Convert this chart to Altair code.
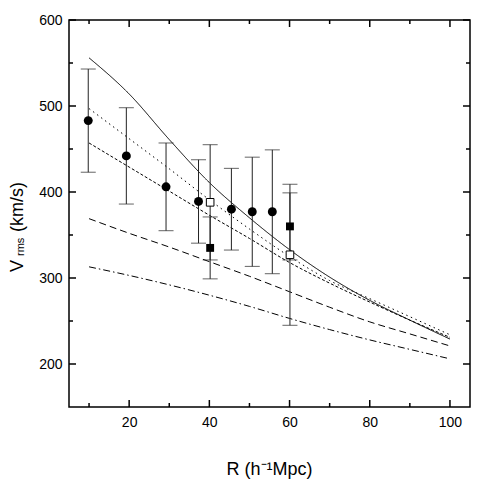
import altair as alt
import pandas as pd

# ---------------- data ----------------
R = [10, 20, 30, 40, 50, 60, 70, 80, 90, 100]
curve_solid = [556, 514, 461, 411, 370, 333, 301, 274, 251, 229]
curve_dotted = [497, 462, 427, 391, 357, 325, 297, 276, 255, 234]
curve_short = [457, 429, 401, 373, 346, 318, 294, 272, 251, 231]
curve_long = [369, 352, 336, 319, 302, 284, 266, 249, 235, 221]
curve_dashdot = [313, 303, 292, 280, 267, 253, 240, 228, 217, 206]
series_names = ["solid", "dotted", "shortdash", "longdash", "dashdot"]

circ_x = [9.8, 19.3, 29.2, 37.3, 45.5, 50.7, 55.7]
circ_y = [483, 442, 406, 389, 380, 377, 377]
circ_err = [60, 56, 51, 48.5, 47.5, 63.5, 72]

osq_x = [40.2, 60.1]
osq_y = [388, 327]
osq_err = [67, 82]

fsq_x = [40.2, 60.1]
fsq_y = [335, 360]
fsq_err = [36, 39]

x_major = [20, 40, 60, 80, 100]
x_minor = [10, 30, 50, 70, 90]
y_major = [200, 300, 400, 500, 600]
y_minor = [250, 350, 450, 550]

x_title = "R (h\u207b\u00b9Mpc)"
y_title_main = "V"
y_title_sub = "rms"
y_title_unit = "(km/s)"

# ---------------- tables ----------------
curves = [curve_solid, curve_dotted, curve_short, curve_long, curve_dashdot]
lines_df = pd.DataFrame(
    [{"R": r, "V": v, "series": name}
     for name, vals in zip(series_names, curves) for r, v in zip(R, vals)]
)

def pts(xs, ys, es, kind):
    return [{"R": x, "V": y, "lo": y - e, "hi": y + e, "kind": kind}
            for x, y, e in zip(xs, ys, es)]

pts_df = pd.DataFrame(pts(circ_x, circ_y, circ_err, "circle")
                      + pts(osq_x, osq_y, osq_err, "open")
                      + pts(fsq_x, fsq_y, fsq_err, "filled"))

W, H = 401, 387
FONT = "Liberation Sans"

xs = alt.Scale(domain=[5, 105], nice=False, zero=False)
ys = alt.Scale(domain=[150, 600], nice=False, zero=False)
xaxis = alt.Axis(values=x_major, tickSize=0, domain=False, grid=False,
                 labelFontSize=14, labelFont=FONT, labelColor="black",
                 labelPadding=8, title=None)
yaxis = alt.Axis(values=y_major, tickSize=0, domain=False, grid=False,
                 labelFontSize=14, labelFont=FONT, labelColor="black",
                 labelPadding=7, title=None)

def X(f):
    return alt.X(f, scale=xs, axis=xaxis)

def Y(f):
    return alt.Y(f, scale=ys, axis=yaxis)

lines = alt.Chart(lines_df).mark_line(color="black", strokeWidth=1,
                                      interpolate="monotone").encode(
    x=X("R:Q"), y=Y("V:Q"),
    strokeDash=alt.StrokeDash(
        "series:N",
        scale=alt.Scale(domain=series_names,
                        range=[[1, 0], [1.5, 3.5], [3, 2], [7, 4], [7, 3, 1.5, 3]]),
        legend=None),
    detail="series:N",
)

bars = alt.Chart(pts_df).mark_rule(color="#222", strokeWidth=1).encode(
    x=X("R:Q"), y=Y("lo:Q"), y2="hi:Q",
)
cap_lo = alt.Chart(pts_df).mark_tick(orient="horizontal", size=15, thickness=1,
                                     color="#222").encode(x=X("R:Q"), y=Y("lo:Q"))
cap_hi = alt.Chart(pts_df).mark_tick(orient="horizontal", size=15, thickness=1,
                                     color="#222").encode(x=X("R:Q"), y=Y("hi:Q"))

circles = alt.Chart(pts_df).transform_filter(alt.datum.kind == "circle").mark_point(
    shape="circle", filled=True, color="black", size=80, opacity=1).encode(
    x=X("R:Q"), y=Y("V:Q"))
fsq = alt.Chart(pts_df).transform_filter(alt.datum.kind == "filled").mark_point(
    shape="square", filled=True, color="black", size=62, opacity=1).encode(
    x=X("R:Q"), y=Y("V:Q"))
osq = alt.Chart(pts_df).transform_filter(alt.datum.kind == "open").mark_point(
    shape="square", filled=True, fill="white", stroke="black", strokeWidth=1,
    size=58, opacity=1).encode(x=X("R:Q"), y=Y("V:Q"))

# inward axis ticks on all four sides
def xticks(vals, length, top):
    d = pd.DataFrame({"t": vals})
    y1 = 0 if top else H
    y2 = length if top else H - length
    return alt.Chart(d).mark_rule(color="black", strokeWidth=1.5).encode(
        x=X("t:Q"), y=alt.value(y1), y2=alt.value(y2))

def yticks(vals, length, right):
    d = pd.DataFrame({"t": vals})
    x1 = W if right else 0
    x2 = W - length if right else length
    return alt.Chart(d).mark_rule(color="black", strokeWidth=1.5).encode(
        y=Y("t:Q"), x=alt.value(x1), x2=alt.value(x2))

ticks = [xticks(x_major, 7, False), xticks(x_minor, 4, False),
         xticks(x_major, 7, True), xticks(x_minor, 4, True),
         yticks(y_major, 7, False), yticks(y_minor, 4, False),
         yticks(y_major, 7, True), yticks(y_minor, 4, True)]

one = pd.DataFrame({"a": [0]})
xt = alt.Chart(one).mark_text(text=x_title, font=FONT, fontSize=18, color="black",
                              align="center", baseline="alphabetic").encode(
    x=alt.value(W / 2), y=alt.value(455))
yt1 = alt.Chart(one).mark_text(text=y_title_main, font=FONT, fontSize=18, color="black",
                               angle=270, align="left", baseline="alphabetic").encode(
    x=alt.value(-46), y=alt.value(252))
yt2 = alt.Chart(one).mark_text(text=y_title_sub, font=FONT, fontSize=11, color="black",
                               angle=270, align="left", baseline="alphabetic").encode(
    x=alt.value(-45), y=alt.value(236))
yt3 = alt.Chart(one).mark_text(text=y_title_unit, font=FONT, fontSize=18, color="black",
                               angle=270, align="left", baseline="alphabetic").encode(
    x=alt.value(-46), y=alt.value(212))

chart = alt.layer(lines, bars, cap_lo, cap_hi, circles, fsq, osq,
                  *ticks, xt, yt1, yt2, yt3).properties(
    width=W, height=H,
    autosize=alt.AutoSizeParams(type="none"),
    padding={"left": 61, "top": 12, "right": 13, "bottom": 76},
    background="white",
).configure_view(stroke="black", strokeWidth=1.5)

chart.save("out.html", embed_options={"renderer": "svg", "actions": False})
